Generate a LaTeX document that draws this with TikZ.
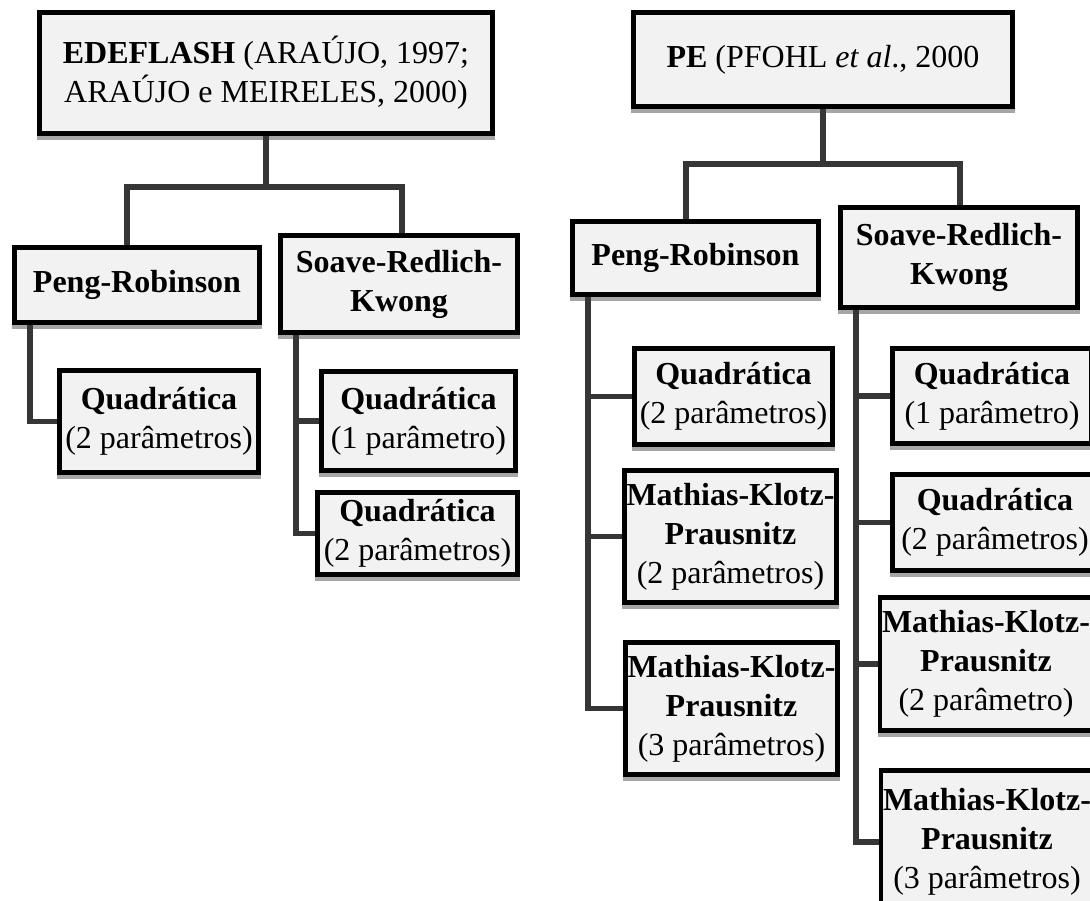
\documentclass[tikz,border=0pt]{standalone}
\usepackage{fontspec}
\setmainfont{Liberation Serif}
\usepackage{tikz}
\usetikzlibrary{calc}
\definecolor{fundo}{HTML}{F2F2F2}
\definecolor{linha}{HTML}{363636}
\tikzset{caixa/.style={draw=black, line width=4.8pt, fill=fundo, align=center,
    inner xsep=2pt, inner ysep=2pt, font=\fontsize{32}{39}\selectfont,
    preaction={draw=black!35, line width=4.8pt, transform canvas={yshift=-4pt}}}}
\tikzset{ligacao/.style={draw=linha, line width=5.5pt}}
\tikzset{tam/.style 2 args={minimum width=#1pt, minimum height=#2pt}}

\begin{document}
\begin{tikzpicture}[x=1pt, y=-1pt]
  \useasboundingbox (0,0) rectangle (1090,901);

  % raizes
  \node[caixa, tam={453.5}{121.5}] at (266,73) (edeflash)
    {\textbf{EDEFLASH} (ARAÚJO, 1997;\\ARAÚJO e MEIRELES, 2000)};
  \node[caixa, tam={379.5}{94.5}] at (823,59.5) (pe)
    {\textbf{PE} (PFOHL \textit{et al}., 2000};

  % equacoes de estado
  \node[caixa, tam={245.5}{75.5}] at (137,285) (pengA) {\textbf{Peng-Robinson}};
  \node[caixa, tam={237.5}{97.5}] at (399,284) (soaveA) {\textbf{Soave-Redlich-}\\\textbf{Kwong}};
  \node[caixa, tam={246.5}{73.5}] at (695.5,258) (pengB) {\textbf{Peng-Robinson}};
  \node[caixa, tam={237.5}{100.5}] at (959,257.5) (soaveB) {\textbf{Soave-Redlich-}\\\textbf{Kwong}};

  % regras de mistura
  \node[caixa, tam={199.5}{102.5}] at (159,421.5) (quadA) {\textbf{Quadrática}\\(2 parâmetros)};
  \node[caixa, tam={194.5}{99.5}] at (418.5,421) (quad1A) {\textbf{Quadrática}\\(1 parâmetro)};
  \node[caixa, tam={200.5}{82.5}] at (417.5,533.5) (quad2A) {\textbf{Quadrática}\\(2 parâmetros)};

  \node[caixa, tam={198.5}{96.5}] at (733.5,396.5) (quadB) {\textbf{Quadrática}\\(2 parâmetros)};
  \node[caixa, tam={210.5}{132.5}] at (730.5,536.5) (mkp2B)
    {\textbf{Mathias-Klotz-}\\\textbf{Prausnitz}\\(2 parâmetros)};
  \node[caixa, tam={210.5}{132.5}] at (731.5,708.5) (mkp3B)
    {\textbf{Mathias-Klotz-}\\\textbf{Prausnitz}\\(3 parâmetros)};

  \node[caixa, tam={199.5}{95.5}] at (992,396) (quad1C) {\textbf{Quadrática}\\(1 parâmetro)};
  \node[caixa, tam={205.5}{96.5}] at (995,522.5) (quad2C) {\textbf{Quadrática}\\(2 parâmetros)};
  \node[caixa, tam={211.5}{133.5}] at (986,664) (mkp2C)
    {\textbf{Mathias-Klotz-}\\\textbf{Prausnitz}\\(2 parâmetro)};
  \node[caixa, tam={211.5}{143.5}] at (987,842) (mkp3C)
    {\textbf{Mathias-Klotz-}\\\textbf{Prausnitz}\\(3 parâmetros)};

  % ligacoes
  \draw[ligacao] (edeflash.south) -- ++(0,51) coordinate (jA);
  \draw[ligacao] ([xshift=-10pt]pengA.north) |- (jA) -| ([xshift=3pt]soaveA.north);
  \draw[ligacao] (pe.south) -- ++(0,55) coordinate (jB);
  \draw[ligacao] ([xshift=-9.5pt]pengB.north) |- (jB) -| ([xshift=1pt]soaveB.north);

  \foreach \filho in {quadA}
    \draw[ligacao] ([xshift=18pt]pengA.south west) |- (\filho.west);
  \foreach \filho in {quad1A, quad2A}
    \draw[ligacao] ([xshift=18pt]soaveA.south west) |- (\filho.west);
  \foreach \filho in {quadB, mkp2B, mkp3B}
    \draw[ligacao] ([xshift=18pt]pengB.south west) |- (\filho.west);
  \foreach \filho in {quad1C, quad2C, mkp2C, mkp3C}
    \draw[ligacao] ([xshift=18pt]soaveB.south west) |- (\filho.west);
\end{tikzpicture}
\end{document}
